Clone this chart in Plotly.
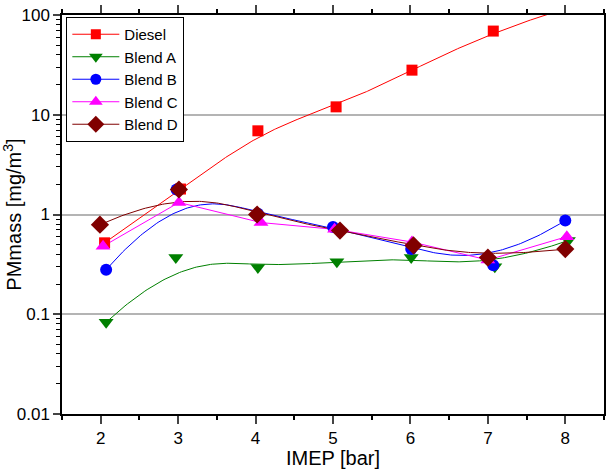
import numpy as np
import plotly.graph_objects as go

# ---- data ----
diesel_x = [2.05, 3.03, 4.03, 5.04, 6.02, 7.07, 8.0]
diesel_y = [0.52, 1.8, 6.9, 12.0, 28.0, 69.0, 116.0]

blendA_x = [2.07, 2.97, 4.03, 5.05, 6.01, 7.09, 8.04]
blendA_y = [0.083, 0.37, 0.295, 0.336, 0.37, 0.30, 0.55]

blendB_x = [2.07, 2.98, 4.03, 5.0, 6.01, 7.07, 8.0]
blendB_y = [0.28, 1.78, 1.02, 0.75, 0.45, 0.31, 0.87]

blendC_x = [2.03, 3.01, 4.07, 5.02, 6.02, 7.0, 8.02]
blendC_y = [0.48, 1.32, 0.83, 0.71, 0.53, 0.35, 0.60]

blendD_x = [1.99, 3.01, 4.02, 5.09, 6.04, 7.0, 8.0]
blendD_y = [0.79, 1.78, 1.0, 0.69, 0.49, 0.37, 0.45]

x_ticks = [2, 3, 4, 5, 6, 7, 8]
y_tickvals = [0.01, 0.1, 1, 10, 100]
y_ticktext = ["0.01", "0.1", "1", "10", "100"]
y_minor_vals = [m * 10.0 ** e for e in range(-2, 2) for m in range(2, 10)]


def bspline(xs, ys, n=300, k=3):
    """Clamped uniform B-spline with the data points as control points (log-y space)."""
    P = np.column_stack([np.asarray(xs, float), np.log10(np.asarray(ys, float))])
    m = len(P)
    inner = list(range(1, m - k))
    knots = np.array([0.0] * (k + 1) + inner + [float(m - k)] * (k + 1))
    t = np.linspace(0, m - k, n)
    t[-1] -= 1e-9

    def basis(i, p, tt):
        if p == 0:
            return np.where((knots[i] <= tt) & (tt < knots[i + 1]), 1.0, 0.0)
        a = knots[i + p] - knots[i]
        b = knots[i + p + 1] - knots[i + 1]
        left = (tt - knots[i]) / a * basis(i, p - 1, tt) if a > 0 else 0.0
        right = (knots[i + p + 1] - tt) / b * basis(i + 1, p - 1, tt) if b > 0 else 0.0
        return left + right

    out = np.zeros((n, 2))
    for i in range(m):
        out += basis(i, k, t)[:, None] * P[i]
    return out[:, 0], 10 ** out[:, 1]


series = [
    ("Diesel", diesel_x, diesel_y, "#FF0000", "square", 11, True),
    ("Blend A", blendA_x, blendA_y, "#008000", "triangle-down", 13, True),
    ("Blend B", blendB_x, blendB_y, "#0000FF", "circle", 12, True),
    ("Blend C", blendC_x, blendC_y, "#FF00FF", "triangle-up", 13, False),
    ("Blend D", blendD_x, blendD_y, "#800000", "diamond", 14, True),
]

fig = go.Figure()
for name, xs, ys, col, sym, sz, smooth in series:
    if smooth:
        lx, ly = bspline(xs, ys)
    else:
        lx, ly = xs, ys
    fig.add_trace(go.Scatter(x=lx, y=ly, mode="lines", line=dict(color=col, width=1),
                             showlegend=False, hoverinfo="skip"))
for name, xs, ys, col, sym, sz, smooth in series:
    fig.add_trace(go.Scatter(x=xs, y=ys, mode="markers", showlegend=False,
                             marker=dict(symbol=sym, color=col, size=sz, line=dict(width=0))))
for name, xs, ys, col, sym, sz, smooth in series:
    fig.add_trace(go.Scatter(x=[None], y=[None], mode="lines+markers", name=name,
                             line=dict(color=col, width=1),
                             marker=dict(symbol=sym, color=col, size=sz - 1, line=dict(width=0))))

font = "Arial, Liberation Sans, sans-serif"
fig.update_layout(
    width=607, height=469,
    margin=dict(l=62, r=1, t=15, b=55),
    paper_bgcolor="white", plot_bgcolor="white",
    font=dict(family=font, size=17, color="black"),
    showlegend=True,
    legend=dict(x=0.008, y=0.995, xanchor="left", yanchor="top",
                bordercolor="black", borderwidth=1, bgcolor="white",
                font=dict(size=15), tracegroupgap=0, itemwidth=47),
    xaxis=dict(range=[1.5, 8.5], tickvals=x_ticks, ticks="outside", ticklen=8, tickwidth=1.5,
               showline=True, linecolor="black", linewidth=1.5, mirror="ticks",
               showgrid=False, zeroline=False,
               minor=dict(dtick=0.5, ticks="outside", ticklen=4, tickwidth=1.5, tickcolor="black"),
               title=dict(text="IMEP [bar]", font=dict(size=20), standoff=0),
               tickfont=dict(size=17)),
    yaxis=dict(type="log", range=[-2, 2], tickvals=y_tickvals, ticktext=y_ticktext,
               ticks="outside", ticklen=7, tickwidth=1.5,
               showline=True, linecolor="black", linewidth=1.5, mirror=True,
               showgrid=True, gridcolor="#B4B4B4", gridwidth=1.5, zeroline=False,
               minor=dict(tickvals=y_minor_vals, ticks="outside", ticklen=4, tickwidth=1.2,
                          tickcolor="black", showgrid=False),
               title=dict(text="PMmass [mg/m<sup>3</sup>]", font=dict(size=20), standoff=2),
               tickfont=dict(size=17)),
)

fig.write_html("out.html")
